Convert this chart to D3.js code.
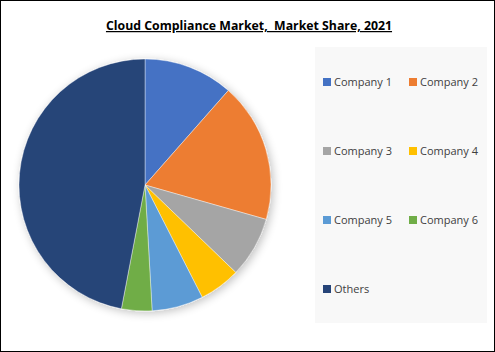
<!DOCTYPE html>
<html>
<head>
<meta charset="utf-8">
<script src="https://cdn.jsdelivr.net/npm/d3@7"></script>
<style>
  body { margin: 0; background: #fff; }
  svg { display: block; }
</style>
</head>
<body>
<svg id="chart"></svg>
<script>
// Data (percent share)
const companies = ['Company 1', 'Company 2', 'Company 3', 'Company 4', 'Company 5', 'Company 6', 'Others'];
const shares = [11.5, 17.9, 7.8, 5.3, 6.6, 3.9, 47.0];
const colors = ['#4472C4', '#ED7D31', '#A5A5A5', '#FFC000', '#5B9BD5', '#70AD47', '#264478'];

const width = 495;
const height = 352;

const svg = d3.select('#chart')
  .attr('width', width)
  .attr('height', height);

// outer frame
svg.append('rect')
  .attr('x', 0.5).attr('y', 0.5)
  .attr('width', width - 1).attr('height', height - 1)
  .attr('fill', '#fff')
  .attr('stroke', '#000');

// soft shadow for the pie
const defs = svg.append('defs');
const shadow = defs.append('filter').attr('id', 'shadow')
  .attr('x', '-20%').attr('y', '-20%').attr('width', '140%').attr('height', '140%');
shadow.append('feGaussianBlur').attr('in', 'SourceAlpha').attr('stdDeviation', 5);
shadow.append('feOffset').attr('dx', 2).attr('dy', 2).attr('result', 'blur');
shadow.append('feComponentTransfer').append('feFuncA').attr('type', 'linear').attr('slope', 0.25);
const merge = shadow.append('feMerge');
merge.append('feMergeNode');
merge.append('feMergeNode').attr('in', 'SourceGraphic');

// title
svg.append('text')
  .attr('x', 249)
  .attr('y', 30)
  .attr('text-anchor', 'middle')
  .attr('font-family', 'Open Sans, sans-serif')
  .attr('font-weight', 'bold')
  .attr('font-size', 12.3)
  .attr('text-decoration', 'underline')
  .style('white-space', 'pre')
  .text('Cloud Compliance Market,  Market Share, 2021');

// pie
const cx = 145, cy = 185, radius = 126;
const colorScale = d3.scaleOrdinal().domain(companies).range(colors);

const pie = d3.pie().sort(null).value((d, i) => shares[i]);
const arc = d3.arc().innerRadius(0).outerRadius(radius);

const pieG = svg.append('g')
  .attr('transform', `translate(${cx},${cy})`)
  .attr('filter', 'url(#shadow)');

pieG.selectAll('path')
  .data(pie(companies))
  .enter()
  .append('path')
  .attr('d', arc)
  .attr('fill', (d) => colorScale(d.data))
  .attr('stroke', '#fff')
  .attr('stroke-width', 0.4);

// legend box
svg.append('rect')
  .attr('x', 315).attr('y', 47)
  .attr('width', 172).attr('height', 276)
  .attr('fill', '#f8f8f8');

const colX = [323, 409];
const rowY = [82, 151, 220, 289];

const legend = svg.append('g')
  .selectAll('g')
  .data(companies)
  .enter()
  .append('g')
  .attr('transform', (d, i) => `translate(${colX[i % 2]},${rowY[Math.floor(i / 2)]})`);

legend.append('rect')
  .attr('x', 0).attr('y', -4)
  .attr('width', 8).attr('height', 8)
  .attr('fill', (d) => colorScale(d));

legend.append('text')
  .attr('x', 11)
  .attr('y', 4)
  .attr('font-family', 'Open Sans, sans-serif')
  .attr('font-size', 11)
  .attr('fill', '#404040')
  .text((d) => d);
</script>
</body>
</html>
